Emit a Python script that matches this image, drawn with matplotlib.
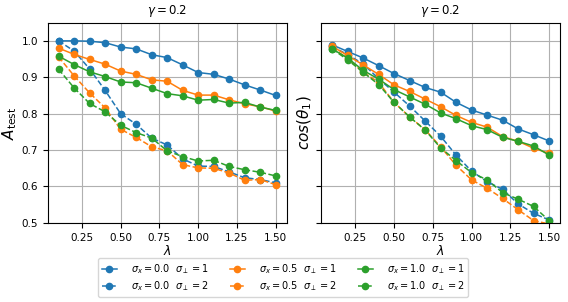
import matplotlib
matplotlib.use("Agg")
import matplotlib.pyplot as plt
import numpy as np

lam = [0.1, 0.2, 0.3, 0.4, 0.5, 0.6, 0.7, 0.8, 0.9, 1.0, 1.1, 1.2, 1.3, 1.4, 1.5]

# left panel: A_test
acc_s0_p1 = [1.000, 1.000, 0.999, 0.995, 0.983, 0.978, 0.962, 0.954, 0.934, 0.913, 0.908, 0.895, 0.879, 0.865, 0.850]
acc_s0_p2 = [1.000, 0.972, 0.923, 0.864, 0.800, 0.771, 0.733, 0.714, 0.676, 0.656, 0.655, 0.640, 0.624, 0.619, 0.610]
acc_s05_p1 = [0.980, 0.963, 0.949, 0.936, 0.917, 0.908, 0.893, 0.889, 0.864, 0.851, 0.851, 0.838, 0.827, 0.819, 0.807]
acc_s05_p2 = [0.956, 0.904, 0.857, 0.816, 0.757, 0.735, 0.709, 0.698, 0.660, 0.651, 0.650, 0.637, 0.617, 0.619, 0.605]
acc_s1_p1 = [0.958, 0.935, 0.915, 0.902, 0.887, 0.885, 0.870, 0.855, 0.849, 0.837, 0.839, 0.829, 0.831, 0.818, 0.809]
acc_s1_p2 = [0.922, 0.871, 0.828, 0.805, 0.768, 0.748, 0.733, 0.698, 0.682, 0.670, 0.672, 0.655, 0.646, 0.639, 0.629]

# right panel: cos(theta_1)
cos_s0_p1 = [0.989, 0.971, 0.953, 0.932, 0.910, 0.891, 0.872, 0.859, 0.831, 0.810, 0.796, 0.782, 0.758, 0.742, 0.725]
cos_s0_p2 = [0.985, 0.962, 0.937, 0.896, 0.859, 0.821, 0.780, 0.738, 0.686, 0.642, 0.613, 0.592, 0.552, 0.526, 0.508]
cos_s05_p1 = [0.985, 0.960, 0.934, 0.908, 0.879, 0.861, 0.840, 0.819, 0.795, 0.776, 0.763, 0.737, 0.724, 0.705, 0.691]
cos_s05_p2 = [0.982, 0.951, 0.914, 0.886, 0.831, 0.791, 0.756, 0.709, 0.658, 0.618, 0.595, 0.567, 0.536, 0.506, 0.497]
cos_s1_p1 = [0.978, 0.953, 0.919, 0.895, 0.866, 0.846, 0.826, 0.802, 0.786, 0.767, 0.756, 0.735, 0.724, 0.711, 0.686]
cos_s1_p2 = [0.978, 0.948, 0.914, 0.880, 0.831, 0.791, 0.755, 0.706, 0.671, 0.638, 0.618, 0.583, 0.565, 0.545, 0.506]

sigma_x = ['0.0', '0.5', '1.0']
colors = ['#1f77b4', '#ff7f0e', '#2ca02c']

left_series = [(acc_s0_p1, acc_s0_p2), (acc_s05_p1, acc_s05_p2), (acc_s1_p1, acc_s1_p2)]
right_series = [(cos_s0_p1, cos_s0_p2), (cos_s05_p1, cos_s05_p2), (cos_s1_p1, cos_s1_p2)]

plt.rcParams['font.size'] = 7.5

fig, axes = plt.subplots(1, 2, figsize=(5.68, 3.02), dpi=100, sharey=True)

handles = []
for ax, series in zip(axes, [left_series, right_series]):
    for sx, c, (p1, p2) in zip(sigma_x, colors, series):
        h1, = ax.plot(lam, p1, 'o-', color=c, ms=4.5, lw=1.1,
                      label=r'$\sigma_x = %s\ \ \sigma_\perp = 1$' % sx)
        h2, = ax.plot(lam, p2, 'o--', color=c, ms=4.5, lw=1.1,
                      label=r'$\sigma_x = %s\ \ \sigma_\perp = 2$' % sx)
        if ax is axes[0]:
            handles += [h1, h2]
    ax.set_title(r'$\gamma = 0.2$', fontsize=8.5)
    ax.set_xlabel(r'$\lambda$', fontsize=9, labelpad=1)
    ax.grid(True)
    ax.set_xticks([0.25, 0.5, 0.75, 1.0, 1.25, 1.5])

axes[0].set_ylim(0.5, 1.05)
axes[0].set_ylabel(r'$A_{\rm test}$', fontsize=11, labelpad=2)
axes[1].set_ylabel(r'$cos(\theta_1)$', fontsize=11, labelpad=2)

fig.subplots_adjust(left=0.084, right=0.986, top=0.925, bottom=0.262, wspace=0.145)
fig.legend(handles=handles, loc='center', ncol=3, bbox_to_anchor=(0.498, 0.081),
           fontsize=7, handlelength=1.6, handletextpad=1.4, columnspacing=2.2,
           labelspacing=0.3)

fig.savefig('out.png', dpi=100)
